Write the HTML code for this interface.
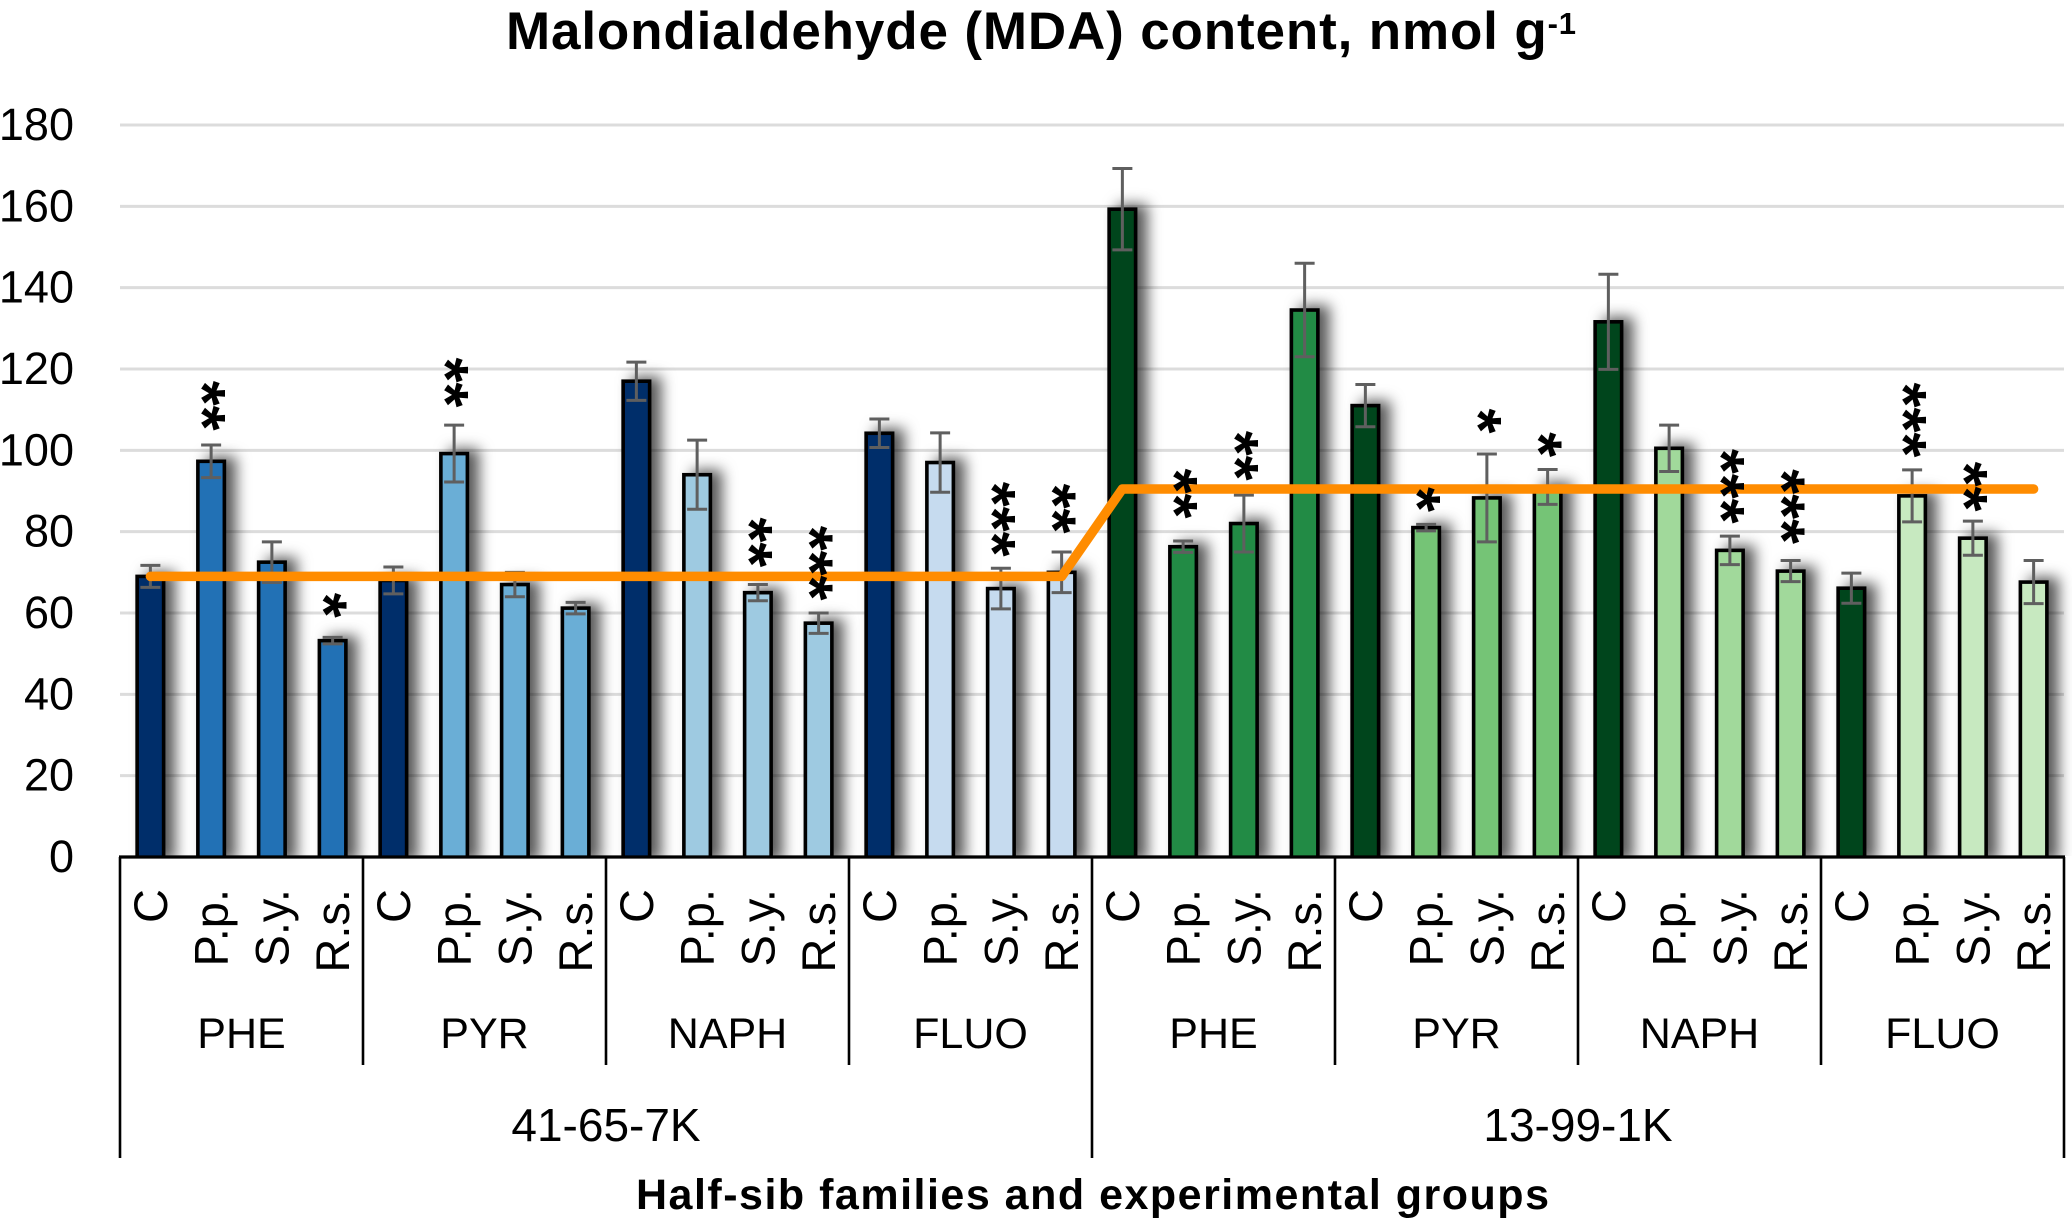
<!DOCTYPE html>
<html>
<head>
<meta charset="utf-8">
<title>Malondialdehyde (MDA) content</title>
<style>
html,body{margin:0;padding:0;background:#fff;}
svg{display:block;}
text{font-family:"Liberation Sans",sans-serif;fill:#000;}
</style>
</head>
<body>
<svg id="chart" xmlns="http://www.w3.org/2000/svg" width="2072" height="1224" viewBox="0 0 2072 1224">
  <defs>
    <filter id="bar-shadow" x="-100%" y="-20%" width="350%" height="130%">
      <feDropShadow dx="10" dy="-3" stdDeviation="7" flood-color="#000" flood-opacity="0.65"/>
    </filter>
    <clipPath id="plot-clip"><rect x="0" y="0" width="2072" height="856"/></clipPath>
  </defs>
  <text x="506" y="49" font-size="53" font-weight="700" textLength="1070">Malondialdehyde (MDA) content, nmol g<tspan font-size="31" dy="-15">-1</tspan></text>
  <g id="grid"></g>
  <g id="bars" clip-path="url(#plot-clip)"></g>
  <g id="errors"></g>
  <g id="trend"></g>
  <g id="stars"></g>
  <g id="axes"></g>
  <text x="636" y="1209" font-size="43" font-weight="700" textLength="913">Half-sib families and experimental groups</text>
</svg>
<script>
const yTicks = [0, 20, 40, 60, 80, 100, 120, 140, 160, 180];
const treatments = ["C", "P.p.", "S.y.", "R.s."];
const groupLabels = ["PHE", "PYR", "NAPH", "FLUO", "PHE", "PYR", "NAPH", "FLUO"];
const familyLabels = ["41-65-7K", "13-99-1K"];
const values = [
  69, 97.3, 72.5, 53.2,
  68, 99.2, 67, 61.2,
  117, 94, 65, 57.5,
  104.2, 97, 66, 70,
  159.3, 76.3, 82, 134.5,
  111, 81, 88.3, 91,
  131.6, 100.5, 75.4, 70.3,
  66.1, 88.8, 78.4, 67.6
];
const errors = [
  2.7, 4, 5, 0.8,
  3.3, 7, 3, 1.4,
  4.7, 8.5, 2, 2.5,
  3.5, 7.3, 5, 5,
  10, 1.4, 7, 11.5,
  5.2, 0.8, 10.8, 4.3,
  11.7, 5.7, 3.5, 2.6,
  3.7, 6.4, 4.2, 5.3
];
const meanLine = [
  69, 69, 69, 69, 69, 69, 69, 69, 69, 69, 69, 69, 69, 69, 69, 69,
  90.5, 90.5, 90.5, 90.5, 90.5, 90.5, 90.5, 90.5, 90.5, 90.5, 90.5, 90.5, 90.5, 90.5, 90.5, 90.5
];
const starCounts = [
  0, 2, 0, 1,
  0, 2, 0, 0,
  0, 0, 2, 3,
  0, 0, 3, 2,
  0, 2, 2, 0,
  0, 1, 1, 1,
  0, 0, 3, 3,
  0, 3, 2, 0
];
const starGaps = [
  0, 6.6, 0, 7.9,
  0, 7.4, 0, 0,
  0, 0, 7.3, 6.1,
  0, 0, 5.9, 7.6,
  0, 8.6, 6.6, 0,
  0, 6.1, 8.1, 6.1,
  0, 0, 6.1, 7.1,
  0, 6.1, 5.4, 0
];
const controlColors = ["#032d6b", "#00441b"];
const groupColors = ["#2171b5", "#6baed6", "#9ecae1", "#c6dbef", "#238b45", "#74c476", "#a1d99b", "#c7e9c0"];

const NS = "http://www.w3.org/2000/svg";
const plotLeft = 120, plotRight = 2064, axisY = 857, topY = 125, yMax = 180;
const catW = (plotRight - plotLeft) / values.length;
const barW = 26.5;
const yScale = v => axisY - (v / yMax) * (axisY - topY);
const xCenter = i => plotLeft + (i + 0.5) * catW;
const xEdge = i => plotLeft + i * catW;

function make(tag, parentId, attrs, txt) {
  const el = document.createElementNS(NS, tag);
  for (const k in attrs) el.setAttribute(k, attrs[k]);
  if (txt !== undefined) el.textContent = txt;
  document.getElementById(parentId).appendChild(el);
  return el;
}

yTicks.forEach(t => {
  if (t > 0) {
    const g = make("line", "grid", {x1: plotLeft, x2: plotRight, y1: yScale(t), y2: yScale(t), stroke: "#dcdcdc", "stroke-width": 3});
    
    
  }
  const lab = make("text", "axes", {x: 74, y: yScale(t) + 15, "font-size": 45, "text-anchor": "end"}, String(t));
  
  
});

values.forEach((v, i) => {
  const groupIdx = Math.floor(i / 4);
  const famIdx = Math.floor(i / 16);
  const fill = i % 4 === 0 ? controlColors[famIdx] : groupColors[groupIdx];
  const cx = xCenter(i);
  const bar = make("rect", "bars", {x: cx - barW / 2, y: yScale(v), width: barW, height: axisY - yScale(v) + 6, fill: fill, stroke: "#000", "stroke-width": 3.6, filter: "url(#bar-shadow)"});
  
  

  const e = errors[i];
  const errPath = "M" + cx + " " + yScale(v + e) + "V" + yScale(v - e) +
    "M" + (cx - 10) + " " + yScale(v + e) + "H" + (cx + 10) +
    "M" + (cx - 10) + " " + yScale(v - e) + "H" + (cx + 10);
  const err = make("path", "errors", {d: errPath, fill: "none", stroke: "#5f5f5f", "stroke-width": 3});
  
  

  if (starCounts[i] > 0) {
    const anchorY = yScale(v + e) - starGaps[i] * (axisY - topY) / yMax;
    const pitch = 25;
    const sx = cx + 6 - 36;
    const sy = anchorY - (starCounts[i] - 0.5) * pitch;
    const st = make("text", "stars", {x: sx, y: sy, "font-size": 64, "font-weight": 700, transform: "rotate(90 " + sx + " " + sy + ")"}, "*".repeat(starCounts[i]));
    
    
  }

  const catX = cx + 16.5;
  const cat = make("text", "axes", {x: catX, y: 889, "font-size": 47, "text-anchor": "end", transform: "rotate(-90 " + catX + " 889)"}, treatments[i % 4]);
  
  
});

const linePts = meanLine.map((v, i) => xCenter(i) + "," + yScale(v)).join(" ");
const trend = make("polyline", "trend", {points: linePts, fill: "none", stroke: "#ff8c00", "stroke-width": 9.5, "stroke-linecap": "round", "stroke-linejoin": "round"});



const axis = make("line", "axes", {x1: plotLeft - 1, x2: plotRight + 1, y1: axisY, y2: axisY, stroke: "#000", "stroke-width": 3.2});



groupLabels.forEach((g, i) => {
  const left = xEdge(i * 4);
  const tick = make("line", "axes", {x1: left, x2: left, y1: axisY, y2: i % 4 === 0 ? 1158 : 1065, stroke: "#000", "stroke-width": 2.6});
  
  
  const lab = make("text", "axes", {x: left + 2 * catW, y: 1048, "font-size": 43, "text-anchor": "middle"}, g);
  
  
});
const endTick = make("line", "axes", {x1: plotRight, x2: plotRight, y1: axisY, y2: 1158, stroke: "#000", "stroke-width": 2.6});



familyLabels.forEach((f, i) => {
  const lab = make("text", "axes", {x: xEdge(i * 16) + 8 * catW, y: 1141, "font-size": 46, "text-anchor": "middle"}, f);
  
  
});
</script>
</body>
</html>
